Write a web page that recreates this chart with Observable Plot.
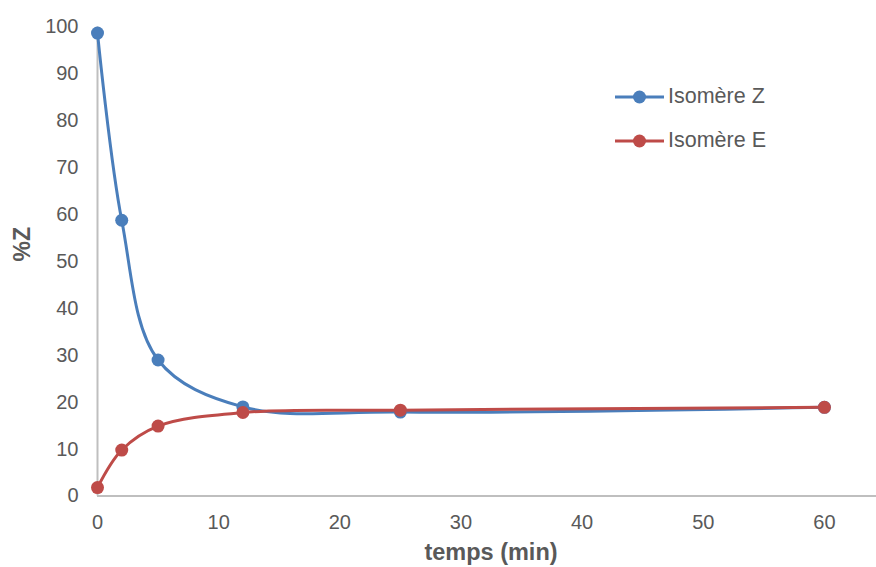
<!DOCTYPE html>
<html>
<head>
<meta charset="utf-8">
<script src="https://cdn.jsdelivr.net/npm/d3@7"></script>
<script src="https://cdn.jsdelivr.net/npm/@observablehq/plot@0.6"></script>
<style>
  html, body { margin: 0; padding: 0; background: #fff; }
  #wrap { position: relative; width: 876px; height: 567px; font-family: "Liberation Sans", Arial, sans-serif; }
  .leg { position: absolute; left: 615px; display: flex; align-items: center; font-size: 21.5px; color: #595959; }
  .leg svg { margin-right: 4px; }
</style>
</head>
<body>
<div id="wrap"></div>
<script>
const times = [0, 2, 5, 12, 25, 60];
const isomereZ = [98.7, 58.8, 29.0, 19.0, 17.9, 18.9];
const isomereE = [1.8, 9.8, 14.9, 17.8, 18.3, 18.9];
const seriesNames = ["Isomère Z", "Isomère E"];
const seriesColors = ["#4A7EBB", "#BE4B48"];
const xTicks = [0, 10, 20, 30, 40, 50, 60];
const yTicks = [0, 10, 20, 30, 40, 50, 60, 70, 80, 90, 100];

const data = [];
[isomereZ, isomereE].forEach((vals, si) => {
  vals.forEach((v, i) => data.push({series: seriesNames[si], t: times[i], v}));
});

const chart = Plot.plot({
  width: 876,
  height: 567,
  marginLeft: 97,
  marginRight: 0,
  marginTop: 26.5,
  marginBottom: 71.5,
  style: {fontFamily: "'Liberation Sans', Arial, sans-serif", fontSize: "20px", color: "#595959", background: "#fff"},
  x: {domain: [0, 64.3], ticks: xTicks},
  y: {domain: [0, 100], ticks: yTicks},
  color: {domain: seriesNames, range: seriesColors},
  marks: [
    Plot.axisX({ticks: xTicks, tickSize: 0, tickPadding: 19, label: null, fill: "#595959", fontSize: 20}),
    Plot.axisY({ticks: yTicks, tickSize: 0, tickPadding: 19, label: null, fill: "#595959", fontSize: 20}),
    Plot.ruleY([0], {stroke: "#BFBFBF", strokeWidth: 2}),
    Plot.ruleX([0], {y1: 0, y2: 100, stroke: "#BFBFBF", strokeWidth: 2}),
    Plot.line(data, {x: "t", y: "v", z: "series", stroke: "series", strokeWidth: 3, curve: "catmull-rom"}),
    Plot.dot(data, {x: "t", y: "v", fill: "series", r: 6.5}),
    Plot.text(["temps (min)"], {frameAnchor: "bottom", dx: 4, dy: 64, fontWeight: "bold", fontSize: 23.5, fill: "#595959"}),
    Plot.text(["%Z"], {frameAnchor: "left", dx: -75, rotate: -90, fontWeight: "bold", fontSize: 23, fill: "#595959"})
  ]
});

const wrap = document.getElementById("wrap");
wrap.appendChild(chart);

seriesNames.forEach((name, i) => {
  const div = document.createElement("div");
  div.className = "leg";
  div.style.top = (96 + i * 44 - 12) + "px";
  div.innerHTML = `<svg width="49" height="24"><line x1="0" x2="49" y1="12" y2="12" stroke="${seriesColors[i]}" stroke-width="3"/><circle cx="24.5" cy="12" r="6.5" fill="${seriesColors[i]}"/></svg><span>${name}</span>`;
  wrap.appendChild(div);
});
</script>
</body>
</html>
